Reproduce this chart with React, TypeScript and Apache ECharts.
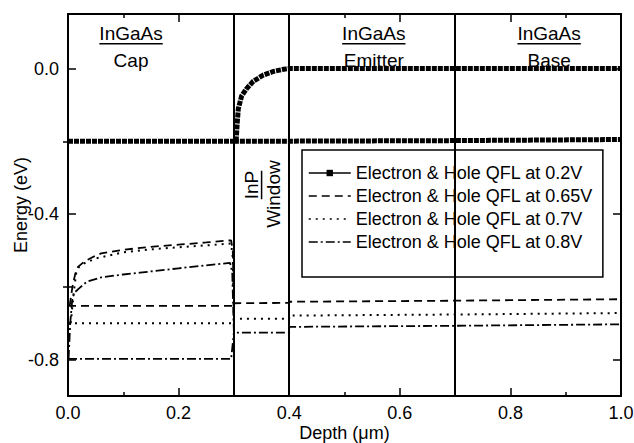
import React, { useEffect, useRef } from "react";
import * as echarts from "echarts";

// ---------- data ----------
const xTickValues = [0, 0.2, 0.4, 0.6, 0.8, 1.0];
const yLabelValues = [-0.8, -0.4, 0.0];
const yMinorValues = [-0.6, -0.2];
const boundaries = [0.3, 0.4, 0.7];

const seriesNames = [
  "Electron & Hole QFL at 0.2V",
  "Electron & Hole QFL at 0.65V",
  "Electron & Hole QFL at 0.7V",
  "Electron & Hole QFL at 0.8V",
];

// 0.2 V
const elec02: [number, number][] = [
  [0, -0.2], [0.3, -0.2], [0.304, -0.2], [0.306, -0.15], [0.308, -0.11], [0.314, -0.075],
  [0.323, -0.055], [0.335, -0.035], [0.353, -0.018], [0.371, -0.008], [0.39, -0.002],
  [0.4, 0], [0.7, 0.0], [1.0, 0.0],
];
const hole02: [number, number][] = [
  [0.3, -0.2], [0.7, -0.198], [1.0, -0.195],
];

// 0.65 V
const hole065: [number, number][] = [
  [0, -0.652], [0.297, -0.652], [0.3, -0.645],
];
const elec065: [number, number][] = [
  [0.003, -0.652], [0.008, -0.6], [0.013, -0.565], [0.018, -0.545], [0.03, -0.53],
  [0.045, -0.518], [0.06, -0.508], [0.1, -0.498], [0.15, -0.49], [0.2, -0.484],
  [0.25, -0.478], [0.295, -0.472], [0.298, -0.5], [0.3, -0.645], [0.4, -0.644],
  [0.4, -0.641], [0.7, -0.638], [1.0, -0.634],
];

// 0.7 V
const hole07: [number, number][] = [
  [0, -0.7], [0.297, -0.7], [0.3, -0.688],
];
const elec07: [number, number][] = [
  [0.005, -0.7], [0.01, -0.62], [0.015, -0.56], [0.02, -0.545], [0.03, -0.535],
  [0.05, -0.522], [0.1, -0.505], [0.15, -0.497], [0.2, -0.491], [0.25, -0.486],
  [0.295, -0.481], [0.298, -0.52], [0.3, -0.688], [0.4, -0.688], [0.4, -0.679],
  [0.7, -0.676], [1.0, -0.672],
];

// 0.8 V
const hole08: [number, number][] = [
  [0, -0.798], [0.295, -0.798], [0.3, -0.726],
];
const elec08: [number, number][] = [
  [0.001, -0.798], [0.004, -0.7], [0.008, -0.63], [0.013, -0.614], [0.02, -0.604],
  [0.034, -0.586], [0.06, -0.574], [0.1, -0.566], [0.13, -0.561], [0.2, -0.549],
  [0.25, -0.541], [0.293, -0.534], [0.297, -0.56], [0.3, -0.726], [0.4, -0.726],
  [0.4, -0.71], [0.7, -0.707], [1.0, -0.703],
];

const regionLabels = [
  { top: "InGaAs", bottom: "Cap", x: 0.114 },
  { top: "InGaAs", bottom: "Emitter", x: 0.553 },
  { top: "InGaAs", bottom: "Base", x: 0.87 },
];
const windowLabel = { top: "InP", bottom: "Window" };

const FONT = '"Liberation Sans", Arial, Helvetica, sans-serif';

function measure(text: string, size: number): number {
  const c = document.createElement("canvas").getContext("2d");
  if (!c) return text.length * size * 0.55;
  c.font = `${size}px "Liberation Sans", Arial, sans-serif`;
  return c.measureText(text).width;
}

export default function App() {
  const ref = useRef<HTMLDivElement>(null);

  useEffect(() => {
    document.body.style.margin = "0";
    if (!ref.current) return;
    const chart = echarts.init(ref.current, null, { renderer: "svg" });

    const styles = [
      { width: 5, type: [5, 1] as number[] },
      { width: 1.8, type: [8, 5] as number[] },
      { width: 2, type: [2, 5] as number[] },
      { width: 1.8, type: [9, 3, 2, 3] as number[] },
    ];
    const pairs: [ [number, number][], [number, number][] ][] = [
      [elec02, hole02],
      [elec065, hole065],
      [elec07, hole07],
      [elec08, hole08],
    ];

    const series: any[] = [];
    pairs.forEach((p, i) => {
      p.forEach((d, j) => {
        series.push({
          type: "line",
          name: seriesNames[i],
          data: d,
          xAxisIndex: 0,
          yAxisIndex: 0,
          symbol: i === 0 ? "rect" : "none",
          symbolSize: 6,
          showSymbol: false,
          silent: true,
          z: 3,
          itemStyle: { color: "#000" },
          lineStyle: { color: "#000", width: styles[i].width, type: styles[i].type, cap: "butt" },
          markLine:
            i === 0 && j === 1
              ? {
                  silent: true,
                  symbol: ["none", "none"],
                  label: { show: false },
                  lineStyle: { color: "#000", width: 2, type: "solid" },
                  data: boundaries.map((b) => ({ xAxis: b })),
                }
              : undefined,
        });
      });
    });

    const axisCommon = {
      axisLine: { show: true, onZero: false, lineStyle: { color: "#000", width: 2 } },
      splitLine: { show: false },
    };

    const TICK = 18;
    const NAME = 18;

    const option: any = {
      animation: false,
      backgroundColor: "#fff",
      textStyle: { fontFamily: FONT, color: "#000" },
      grid: { left: 68, right: 13, top: 14, bottom: 47, containLabel: false, outerBoundsMode: "none" },
      legend: {
        show: true,
        orient: "vertical",
        left: 302,
        top: 150,
        width: 303,
        padding: [14, 10, 26, 6],
        itemGap: 5,
        itemWidth: 42,
        itemHeight: 8,
        backgroundColor: "#fff",
        borderColor: "#000",
        borderWidth: 1.5,
        borderRadius: 0,
        selectedMode: false,
        textStyle: { fontSize: 18, color: "#000", fontFamily: FONT },
        data: seriesNames.map((n, i) =>
          i === 0
            ? { name: n, lineStyle: { width: 1.5, type: "solid", color: "#000" }, itemStyle: { color: "#000" } }
            : { name: n, lineStyle: { width: 1.5, color: "#000" }, itemStyle: { opacity: 0 } }
        ),
      },
      xAxis: [
        {
          ...axisCommon,
          type: "value",
          position: "bottom",
          min: 0,
          max: 1,
          interval: 0.2,
          axisTick: { show: true, inside: true, length: 8, lineStyle: { color: "#000", width: 1.5 } },
          minorTick: { show: true, splitNumber: 2, length: 4, lineStyle: { color: "#000", width: 1.5 } },
          minorSplitLine: { show: false },
          axisLabel: {
            show: true,
            margin: 8,
            fontSize: TICK,
            color: "#000",
            fontFamily: FONT,
            formatter: (v: number) => v.toFixed(1),
            customValues: xTickValues,
          },
          name: "Depth (μm)",
          nameLocation: "middle",
          nameGap: 28,
          nameMoveOverlap: false,
          nameTextStyle: { fontSize: NAME, color: "#000", fontFamily: FONT },
        },
        {
          ...axisCommon,
          type: "value",
          position: "top",
          min: 0,
          max: 1,
          interval: 0.2,
          axisTick: { show: true, inside: true, length: 8, lineStyle: { color: "#000", width: 1.5 } },
          minorTick: { show: true, splitNumber: 2, length: 4, lineStyle: { color: "#000", width: 1.5 } },
          axisLabel: { show: false },
        },
      ],
      yAxis: [
        {
          ...axisCommon,
          type: "value",
          position: "left",
          min: -0.9,
          max: 0.15,
          axisTick: {
            show: true,
            inside: true,
            length: 8,
            customValues: yLabelValues,
            lineStyle: { color: "#000", width: 1.5 },
          },
          axisLabel: {
            show: true,
            margin: 9,
            fontSize: TICK,
            color: "#000",
            fontFamily: FONT,
            customValues: yLabelValues,
            formatter: (v: number) => v.toFixed(1),
          },
          name: "Energy (eV)",
          nameLocation: "middle",
          nameGap: 38,
          nameMoveOverlap: false,
          nameRotate: 90,
          nameTextStyle: { fontSize: NAME, color: "#000", fontFamily: FONT },
        },
        {
          type: "value",
          position: "left",
          min: -0.9,
          max: 0.15,
          axisLine: { show: false },
          splitLine: { show: false },
          axisTick: {
            show: true,
            inside: true,
            length: 5,
            customValues: yMinorValues,
            lineStyle: { color: "#000", width: 1.5 },
          },
          axisLabel: { show: false },
        },
        {
          ...axisCommon,
          type: "value",
          position: "right",
          min: -0.9,
          max: 0.15,
          axisTick: {
            show: true,
            inside: true,
            length: 8,
            customValues: yLabelValues,
            lineStyle: { color: "#000", width: 1.5 },
          },
          axisLabel: { show: false },
        },
        {
          type: "value",
          position: "right",
          min: -0.9,
          max: 0.15,
          axisLine: { show: false },
          splitLine: { show: false },
          axisTick: {
            show: true,
            inside: true,
            length: 5,
            customValues: yMinorValues,
            lineStyle: { color: "#000", width: 1.5 },
          },
          axisLabel: { show: false },
        },
      ],
      series,
    };

    chart.setOption(option);

    // region labels positioned through the axes
    const px = (x: number, y: number) =>
      chart.convertToPixel({ xAxisIndex: 0, yAxisIndex: 0 }, [x, y]) as number[];
    const LS = 19;
    const graphics: any[] = [];
    regionLabels.forEach((r) => {
      const p1 = px(r.x, 0.096);
      const p2 = px(r.x, 0.021);
      const w = measure(r.top, LS);
      graphics.push({
        type: "text",
        x: p1[0],
        y: p1[1],
        silent: true,
        style: { text: r.top, fontSize: LS, fontFamily: FONT, fill: "#000", align: "center", verticalAlign: "middle" },
      });
      graphics.push({
        type: "line",
        silent: true,
        shape: { x1: p1[0] - w / 2, y1: p1[1] + 10, x2: p1[0] + w / 2, y2: p1[1] + 10 },
        style: { stroke: "#000", lineWidth: 1.5 },
      });
      graphics.push({
        type: "text",
        x: p2[0],
        y: p2[1],
        silent: true,
        style: { text: r.bottom, fontSize: LS, fontFamily: FONT, fill: "#000", align: "center", verticalAlign: "middle" },
      });
    });
    const q1 = px(0.332, -0.32);
    const q2 = px(0.372, -0.345);
    const wInP = measure(windowLabel.top, LS);
    graphics.push({
      type: "group",
      x: q1[0],
      y: q1[1],
      rotation: Math.PI / 2,
      silent: true,
      children: [
        {
          type: "text",
          style: { text: windowLabel.top, fontSize: LS, fontFamily: FONT, fill: "#000", align: "center", verticalAlign: "middle" },
        },
        {
          type: "line",
          shape: { x1: -wInP / 2, y1: 10, x2: wInP / 2, y2: 10 },
          style: { stroke: "#000", lineWidth: 1.5 },
        },
      ],
    });
    graphics.push({
      type: "group",
      x: q2[0],
      y: q2[1],
      rotation: Math.PI / 2,
      silent: true,
      children: [
        {
          type: "text",
          style: { text: windowLabel.bottom, fontSize: LS, fontFamily: FONT, fill: "#000", align: "center", verticalAlign: "middle" },
        },
      ],
    });
    chart.setOption({ graphic: graphics });

    return () => chart.dispose();
  }, []);

  return <div ref={ref} style={{ width: 634, height: 443 }} />;
}
